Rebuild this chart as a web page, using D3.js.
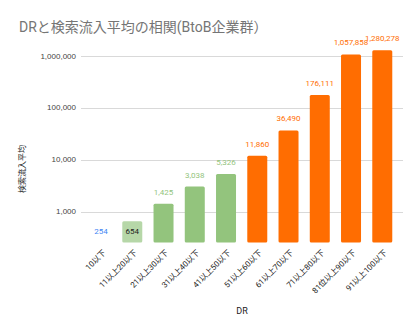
<!DOCTYPE html>
<html><head><meta charset="utf-8">
<script src="https://cdn.jsdelivr.net/npm/d3@7"></script>
<style>html,body{margin:0;padding:0;background:#fff;}</style>
</head><body>
<script>
const categories = ["10以下","11以上20以下","21以上30以下","31以上40以下","41以上50以下","51以上60以下","61以上70以下","71以上80以下","81位以上90以下","91以上100以下"];
const values = [254,654,1425,3038,5326,11860,36490,176111,1057858,1280278];
const barColors = ["#4285f4","#b6d7a8","#93c47d","#93c47d","#93c47d","#ff6d01","#ff6d01","#ff6d01","#ff6d01","#ff6d01"];
const labelColors = ["#4285f4","#222222","#93c47d","#93c47d","#93c47d","#ff6d01","#ff6d01","#ff6d01","#ff6d01","#ff6d01"];
const yTicks = [1000,10000,100000,1000000];
const title = "DRと検索流入平均の相関(BtoB企業群）";
const yTitle = "検索流入平均";
const xTitle = "DR";

const W = 420, H = 333;
const svg = d3.select("body").append("svg").attr("width", W).attr("height", H);
svg.append("rect").attr("width", W).attr("height", H).attr("fill", "#fff");

const font = "Roboto, 'Noto Sans CJK JP', sans-serif";
const x = d3.scaleBand().domain(categories).range([85.4, 397.9]).paddingInner(0.36).paddingOuter(0.18);
const y = d3.scaleLog().domain([254, 1600000]).range([242.6, 45.1]);
const gridX0 = 81, gridX1 = 403;

svg.append("text").attr("x", 19).attr("y", 32).attr("fill", "#757575")
  .attr("font-family", font).attr("font-size", 14).text(title);

// gridlines
svg.append("g").selectAll("line").data(yTicks).join("line")
  .attr("x1", gridX0).attr("x2", gridX1)
  .attr("y1", d => Math.round(y(d)) + 0.5).attr("y2", d => Math.round(y(d)) + 0.5)
  .attr("stroke", "#d9d9d9").attr("stroke-width", 1);

// y tick labels
svg.append("g").selectAll("text").data(yTicks).join("text")
  .attr("x", 76).attr("y", d => y(d)).attr("dy", "0.35em")
  .attr("text-anchor", "end").attr("fill", "#444")
  .attr("font-family", "'Liberation Sans', Arial, sans-serif").attr("font-size", 8)
  .text(d => d3.format(",")(d));

// bars
const y0 = y(y.domain()[0]);
svg.append("g").selectAll("rect").data(values).join("rect")
  .attr("x", (d, i) => x(categories[i]))
  .attr("width", x.bandwidth())
  .attr("y", d => y(d))
  .attr("height", d => Math.max(0, y0 - y(d)))
  .attr("rx", 1.5)
  .attr("fill", (d, i) => barColors[i]);

// value labels
svg.append("g").selectAll("text").data(values).join("text")
  .attr("x", (d, i) => x(categories[i]) + x.bandwidth() / 2)
  .attr("y", (d, i) => i === 1 ? y(values[0]) - 9 : y(d) - 9)
  .attr("text-anchor", "middle")
  .attr("fill", (d, i) => labelColors[i])
  .attr("font-family", font).attr("font-size", 8)
  .text(d => d3.format(",")(d));

// x labels
svg.append("g").selectAll("text").data(categories).join("text")
  .attr("transform", d => `translate(${x(d) + x.bandwidth() / 2 + 3.5},${251}) rotate(-45)`)
  .attr("text-anchor", "end").attr("dy", "0.35em")
  .attr("fill", "#222")
  .attr("font-family", font).attr("font-size", 8)
  .text(d => d);

// axis titles
svg.append("text").attr("x", (gridX0 + gridX1) / 2).attr("y", 314)
  .attr("text-anchor", "middle").attr("fill", "#222")
  .attr("font-family", font).attr("font-size", 9).text(xTitle);

svg.append("text").attr("transform", `translate(24.5,169) rotate(-90)`)
  .attr("text-anchor", "middle").attr("fill", "#222")
  .attr("font-family", font).attr("font-size", 8).text(yTitle);
</script>
</body></html>
